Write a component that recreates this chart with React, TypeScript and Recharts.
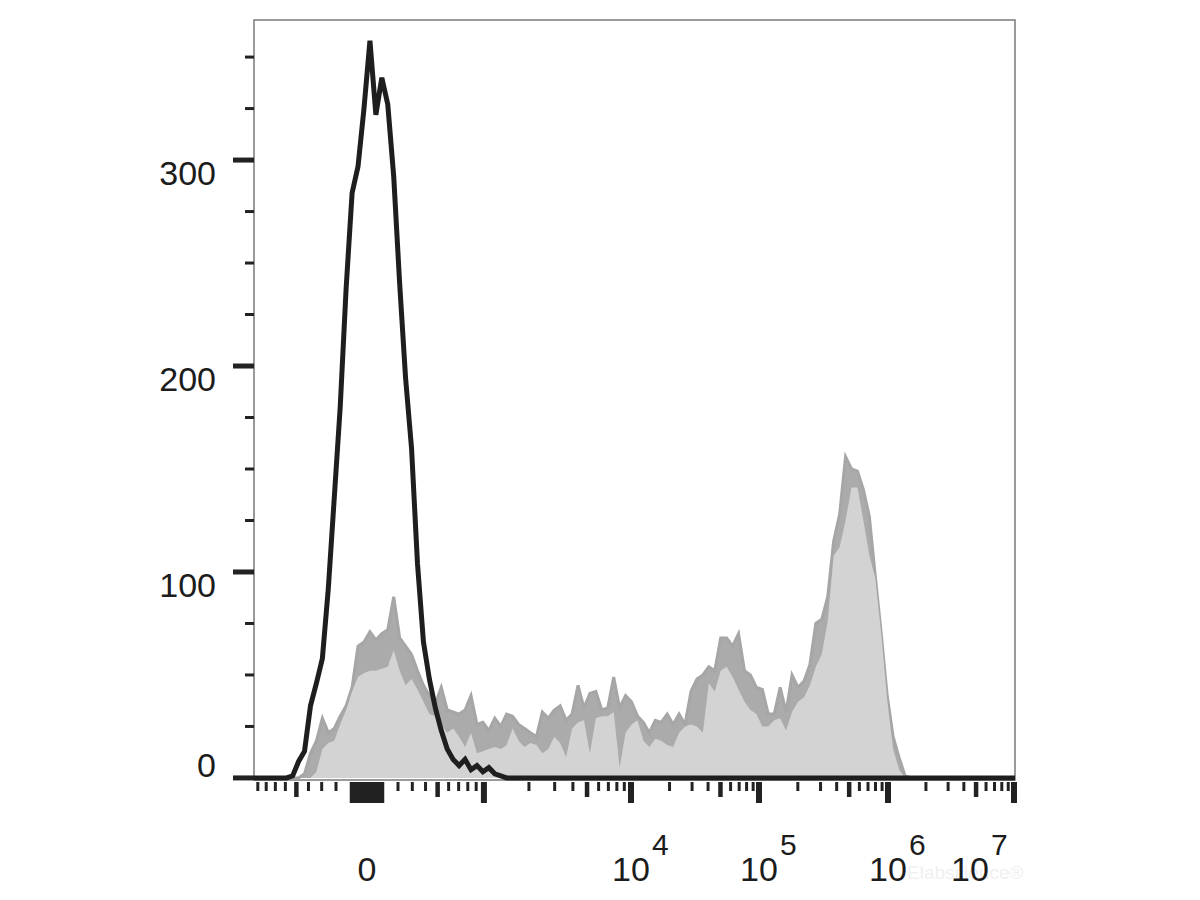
import { Area, ComposedChart, Line, ReferenceArea, XAxis, YAxis } from "recharts";

// histogram bins: 128 bins of 8 display channels (0..1024)
const BIN_WIDTH = 8;
const CHANNELS = 1024;

// isotype control (black outline)
const isotypeCounts = [
  0, 0, 0, 0, 0, 0, 1, 8, 13, 35, 46, 58, 92, 136, 180, 238,
  284, 297, 325, 358, 322, 340, 327, 292, 240, 194, 160, 104, 66, 48, 34, 23,
  14, 9, 6, 9, 4, 6, 3, 5, 2, 1, 0, 0, 0, 0, 0, 0,
  0, 0, 0, 0, 0, 0, 0, 0, 0, 0, 0, 0, 0, 0, 0, 0,
  0, 0, 0, 0, 0, 0, 0, 0, 0, 0, 0, 0, 0, 0, 0, 0,
  0, 0, 0, 0, 0, 0, 0, 0, 0, 0, 0, 0, 0, 0, 0, 0,
  0, 0, 0, 0, 0, 0, 0, 0, 0, 0, 0, 0, 0, 0, 0, 0,
  0, 0, 0, 0, 0, 0, 0, 0, 0, 0, 0, 0, 0, 0, 0, 0,
];

// stained sample, raw counts (dark gray)
const stainedRaw = [
  0, 0, 0, 0, 0, 0, 0, 0, 2, 12, 18, 29, 22, 24, 30, 35,
  44, 64, 66, 71, 67, 70, 72, 88, 68, 64, 60, 52, 45, 40, 36, 44,
  33, 32, 31, 33, 40, 26, 27, 23, 29, 25, 31, 30, 26, 24, 22, 20,
  32, 29, 33, 35, 28, 31, 45, 34, 41, 42, 33, 34, 49, 34, 40, 37,
  30, 27, 22, 28, 27, 31, 26, 31, 26, 42, 48, 50, 54, 52, 68, 68,
  64, 70, 52, 50, 44, 43, 31, 31, 44, 32, 50, 44, 47, 55, 75, 77,
  88, 115, 128, 156, 150, 149, 140, 127, 98, 70, 40, 20, 10, 1, 0, 0,
  0, 0, 0, 0, 0, 0, 0, 0, 0, 0, 0, 0, 0, 0, 0, 0,
];

// stained sample, filled histogram (light gray)
const stainedFill = [
  0, 0, 0, 0, 0, 0, 0, 0, 0, 0, 3, 14, 17, 18, 26, 33,
  42, 49, 51, 52, 52, 53, 54, 62, 52, 45, 48, 43, 37, 31, 30, 26,
  22, 24, 20, 15, 22, 12, 13, 14, 15, 14, 16, 24, 18, 15, 17, 16,
  12, 14, 20, 17, 10, 24, 27, 28, 12, 29, 30, 30, 32, 5, 22, 26,
  28, 18, 15, 19, 18, 16, 15, 22, 25, 26, 25, 22, 46, 42, 52, 54,
  49, 43, 37, 33, 31, 25, 25, 28, 29, 23, 32, 37, 39, 45, 54, 60,
  76, 108, 112, 125, 141, 141, 125, 108, 97, 70, 38, 14, 4, 0, 0, 0,
  0, 0, 0, 0, 0, 0, 0, 0, 0, 0, 0, 0, 0, 0, 0, 0,
];

const yTicks = [0, 25, 50, 75, 100, 125, 150, 175, 200, 225, 250, 275, 300, 325, 350];
const yLabeled = [0, 100, 200, 300];

const xMajor = [0, 1e3, 1e4, 1e5, 1e6, 1e7];
const xMedium = [-500, 500, 5e3, 5e4, 5e5, 5e6];
const xCluster = [-100, -90, -80, -70, -60, -50, -40, -30, -20, -10, 10, 20, 30, 40, 50, 60, 70, 80, 90, 100];
const xLinearMinor = [-900, -800, -700, -600, -400, -300, -200, 200, 300, 400, 600, 700, 800, 900];
const decadeStarts = [1e3, 1e4, 1e5, 1e6];
const decadeSteps = [2, 3, 4, 6, 7, 8, 9];
const xLabels = [
  { value: 0, base: "0", exp: "", shift: 0 },
  { value: 1e4, base: "10", exp: "4", shift: 0 },
  { value: 1e5, base: "10", exp: "5", shift: 0 },
  { value: 1e6, base: "10", exp: "6", shift: 0 },
  { value: 1e7, base: "10", exp: "7", shift: -44 },
];

// biexponential-like display transform (value -> channel)
const decadeAnchors: Array<[number, number]> = [
  [1e3, 118],
  [1e4, 264],
  [1e5, 392],
  [1e6, 521],
  [1e7, 647],
];
const ZERO_OFFSET = 113; // zero sits 113 units into the 761 unit plot
const PLOT_UNITS = 761;

function toChannel(v: number) {
  const a = Math.abs(v);
  let off = 0;
  if (a <= 1000) {
    off = 84 * Math.asinh(a / 530);
  } else {
    const lg = Math.log10(a);
    const d = Math.min(Math.floor(lg), 6);
    const lo = decadeAnchors[d - 3];
    const hi = decadeAnchors[d - 2];
    off = lo[1] + (hi[1] - lo[1]) * (lg - d);
  }
  const u = ZERO_OFFSET + Math.sign(v) * off;
  return (u * CHANNELS) / PLOT_UNITS;
}

type TickKind = "major" | "medium" | "minor" | "cluster";
const tickInfo = new Map<number, { kind: TickKind; label?: (typeof xLabels)[number] }>();
const addTicks = (vals: number[], kind: TickKind) =>
  vals.forEach((v) => {
    const ch = toChannel(v);
    if (ch >= 0 && ch <= CHANNELS) tickInfo.set(ch, { kind, label: xLabels.find((l) => l.value === v) });
  });
addTicks(xCluster, "cluster");
addTicks(xLinearMinor, "minor");
decadeStarts.forEach((d) => addTicks(decadeSteps.map((s) => s * d), "minor"));
addTicks(xMedium, "medium");
addTicks(xMajor, "major");
const xTicks = Array.from(tickInfo.keys()).sort((a, b) => a - b);

const rows = [
  { ch: 0, iso: 0, raw: 0, fill: 0 },
  ...isotypeCounts.map((c, i) => ({
    ch: i * BIN_WIDTH + BIN_WIDTH / 2,
    iso: c,
    raw: stainedRaw[i],
    fill: stainedFill[i],
  })),
  { ch: CHANNELS, iso: 0, raw: 0, fill: 0 },
];

const FONT = "'Liberation Sans', Arial, sans-serif";
const INK = "#1c1c1c";

function XTick(props: any) {
  const { x, y, payload } = props;
  const info = tickInfo.get(payload.value);
  if (!info) return <g />;
  const len = info.kind === "major" || info.kind === "cluster" ? 21 : info.kind === "medium" ? 15 : 9;
  const w = info.kind === "major" ? 6 : info.kind === "medium" ? 4.5 : 3;
  const lab = info.label;
  return (
    <g>
      <line x1={x} x2={x} y1={y + 2} y2={y + 2 + len} stroke="#222" strokeWidth={w} />
      {lab && (
        <text fontFamily={FONT} fill={INK}>
          <tspan x={x + lab.shift} y={y + 101} fontSize={34} textAnchor="middle">
            {lab.base}
          </tspan>
          {lab.exp && (
            <tspan x={x + lab.shift + 21} y={y + 75} fontSize={30}>
              {lab.exp}
            </tspan>
          )}
        </text>
      )}
    </g>
  );
}

function YTick(props: any) {
  const { x, y, payload } = props;
  const v = payload.value as number;
  const major = yLabeled.includes(v);
  return (
    <g>
      <line x1={x - (major ? 21 : 9)} x2={x} y1={y} y2={y} stroke="#222" strokeWidth={major ? 5 : 3} />
      {major && (
        <text x={x - 38} y={v === 0 ? y - 1 : y + 25} textAnchor="end" fontSize={34} fontFamily={FONT} fill={INK}>
          {v}
        </text>
      )}
    </g>
  );
}

export default function App() {
  return (
    <div style={{ position: "absolute", left: 0, top: 0, width: 1200, height: 900, background: "#fff" }}>
      <div
        style={{
          position: "absolute",
          left: 907,
          top: 862,
          fontFamily: FONT,
          fontSize: 19,
          color: "#f0f0f0",
        }}
      >
        Elabscience®
      </div>
      <ComposedChart
        width={1200}
        height={900}
        data={rows}
        margin={{ top: 20, right: 185, bottom: 20, left: 194 }}
        style={{ position: "absolute", left: 0, top: 0 }}
      >
        <XAxis
          dataKey="ch"
          type="number"
          domain={[0, CHANNELS]}
          ticks={xTicks}
          interval={0}
          height={100}
          axisLine={false}
          tickLine={false}
          tickSize={0}
          tickMargin={0}
          tick={(p: any) => <XTick {...p} />}
        />
        <YAxis
          type="number"
          domain={[-1, 368]}
          ticks={yTicks}
          interval={0}
          width={60}
          axisLine={false}
          tickLine={false}
          tickSize={0}
          tickMargin={0}
          tick={(p: any) => <YTick {...p} />}
        />
        <ReferenceArea x1={0} x2={CHANNELS} y1={-1} y2={368} fill="none" stroke="#7a7a7a" strokeWidth={1.5} />
        <Area
          dataKey="raw"
          type="linear"
          fill="#ababab"
          fillOpacity={1}
          stroke="#a6a6a6"
          strokeWidth={3}
          isAnimationActive={false}
        />
        <Area dataKey="fill" type="linear" fill="#d3d3d3" fillOpacity={1} stroke="none" isAnimationActive={false} />
        <Line
          dataKey="iso"
          type="linear"
          stroke="#1e1e1e"
          strokeWidth={5}
          dot={false}
          isAnimationActive={false}
        />
      </ComposedChart>
    </div>
  );
}
